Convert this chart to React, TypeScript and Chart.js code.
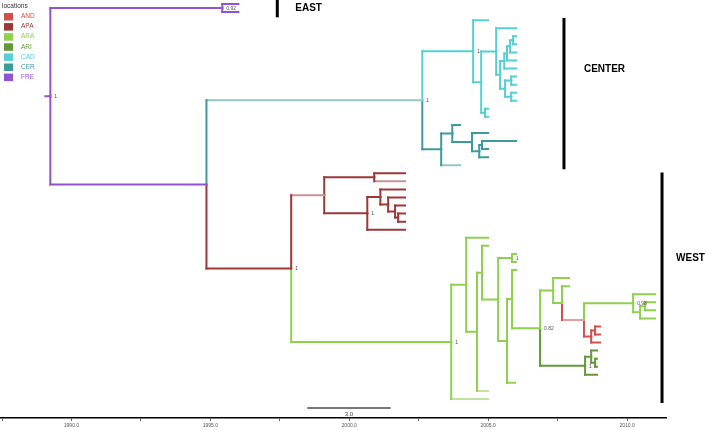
import React, { useEffect, useRef } from "react";
import { Chart, registerables } from "chart.js";

Chart.register(...registerables);

// ---- legend / locations ----
const locations = ["AND", "APA", "ARA", "ARI", "CAD", "CER", "FRE"];
const locationColors = ["#d24f4f", "#9c3838", "#8fd04e", "#64983a", "#55d0d0", "#3d9b9b", "#9352cf"];

// ---- tree: parent index, node height (year), location of the node ----
const nodeParent = [
  -1, 0, 1, 1, 0, 4, 5, 6, 6, 8,
  9, 9, 11, 12, 13, 14, 15, 15, 14, 13,
  12, 11, 21, 22, 22, 21, 25, 25, 8, 28,
  28, 5, 31, 32, 32, 34, 34, 36, 37, 37,
  36, 31, 4, 42, 43, 44, 44, 43, 47, 48,
  48, 50, 50, 52, 52, 54, 54, 47, 42, 58,
  59, 59, 61, 62, 62, 64, 65, 65, 64, 68,
  69, 69, 71, 72, 72, 74, 74, 76, 77, 77,
  79, 80, 80, 79, 76, 84, 85, 85, 84, 71,
  89, 90, 90, 92, 92, 89, 68, 61, 58,
];
const nodeYear = [
  1989.24, 1995.43, 1996.01, 1996.01, 1994.86, 2002.63, 2004.46, 2005.0, 2004.75, 2005.29,
  2006.01, 2005.43, 2005.58, 2005.68, 2005.79, 2005.9, 2006.01, 2006.01, 2006.01, 2006.01,
  2006.01, 2005.61, 2005.83, 2006.01, 2006.01, 2005.83, 2006.01, 2006.01, 2004.89, 2005.0,
  2005.0, 2003.31, 2003.71, 2003.99, 2004.42, 2005.0, 2004.68, 2004.78, 2006.01, 2005.0,
  2005.0, 2003.99, 1997.91, 1999.1, 2000.9, 2002.01, 2002.01, 2000.65, 2001.12, 2002.01,
  2001.4, 2002.01, 2001.65, 2002.01, 2001.76, 2002.01, 2002.01, 2002.01, 2003.67, 2004.21,
  2005.0, 2004.6, 2004.78, 2005.0, 2005.36, 2005.86, 2006.01, 2006.01, 2005.68, 2005.86,
  2006.01, 2006.87, 2007.34, 2007.91, 2007.66, 2007.91, 2008.45, 2010.22, 2011.01, 2010.47,
  2010.65, 2011.01, 2011.01, 2011.01, 2008.71, 2008.85, 2009.03, 2009.03, 2009.03, 2008.49,
  2008.71, 2008.92, 2008.85, 2008.92, 2008.92, 2008.92, 2005.97, 2005.0, 2005.0,
];
const nodeLocation = [
  "FRE", "FRE", "FRE", "FRE", "FRE", "CER", "CAD", "CAD", "CAD", "CAD",
  "CAD", "CAD", "CAD", "CAD", "CAD", "CAD", "CAD", "CAD", "CAD", "CAD",
  "CAD", "CAD", "CAD", "CAD", "CAD", "CAD", "CAD", "CAD", "CAD", "CAD",
  "CAD", "CER", "CER", "CER", "CER", "CER", "CER", "CER", "CER", "CER",
  "CER", "CER", "APA", "APA", "APA", "APA", "APA", "APA", "APA", "APA",
  "APA", "APA", "APA", "APA", "APA", "APA", "APA", "APA", "ARA", "ARA",
  "ARA", "ARA", "ARA", "ARA", "ARA", "ARA", "ARA", "ARA", "ARA", "ARA",
  "ARA", "ARA", "ARA", "ARA", "ARA", "ARA", "AND", "ARA", "ARA", "ARA",
  "ARA", "ARA", "ARA", "ARA", "AND", "AND", "AND", "AND", "AND", "ARI",
  "ARI", "ARI", "ARI", "ARI", "ARI", "ARI", "ARA", "ARA", "ARA",
];
const fadedNodes = [5, 41, 43, 46, 76, 97, 98];
const rootStubYear = 1989.06;

// ---- posterior support labels ----
const supportNodes = [0, 1, 5, 6, 42, 47, 58, 65, 71, 77, 89];
const supportValues = ["1", "0.92", "1", "1", "1", "1", "1", "1", "0.82", "0,98", "1"];

// ---- clade annotation ----
const regionNames = ["EAST", "CENTER", "WEST"];
const regionFirstTip = [0, 2, 21];
const regionLastTip = [1, 20, 49];

// ---- axis ----
const tickYears = [1987.5, 1990, 1992.5, 1995, 1997.5, 2000, 2002.5, 2005, 2007.5, 2010];
const scaleBarYears = 3.0;

function fade(hex: string, k: number) {
  const r = parseInt(hex.slice(1, 3), 16), g = parseInt(hex.slice(3, 5), 16), b = parseInt(hex.slice(5, 7), 16);
  const m = (c: number) => Math.round(c + (255 - c) * k);
  return `rgb(${m(r)},${m(g)},${m(b)})`;
}

function layoutTree() {
  const n = nodeParent.length;
  const children: number[][] = Array.from({ length: n }, () => []);
  nodeParent.forEach((p, i) => { if (p >= 0) children[p].push(i); });
  const yPos = new Array(n).fill(0);
  let tip = 0;
  const visit = (i: number) => {
    const c = children[i];
    if (c.length === 0) { yPos[i] = tip++; return; }
    c.forEach(visit);
    yPos[i] = (yPos[c[0]] + yPos[c[c.length - 1]]) / 2;
  };
  visit(0);
  return { children, yPos };
}

export default function App() {
  const ref = useRef<HTMLCanvasElement>(null);
  useEffect(() => {
    const { yPos } = layoutTree();
    const colorOf = (i: number) => locationColors[locations.indexOf(nodeLocation[i])];
    const datasets: any[] = [];
    const seg = (pts: any[], color: string) =>
      datasets.push({
        data: pts, showLine: true, borderColor: color, backgroundColor: color,
        borderWidth: 2, pointRadius: 0, fill: false, borderCapStyle: "square",
      });
    seg([{ x: rootStubYear, y: yPos[0] }, { x: nodeYear[0], y: yPos[0] }], colorOf(0));
    nodeParent.forEach((p, i) => {
      if (p < 0) return;
      const base = colorOf(i);
      const h = fadedNodes.includes(i) ? fade(base, 0.45) : base;
      seg([{ x: nodeYear[p], y: yPos[p] }, { x: nodeYear[p], y: yPos[i] }], base);
      seg([{ x: nodeYear[p], y: yPos[i] }, { x: nodeYear[i], y: yPos[i] }], h);
    });

    const overlay = {
      id: "overlay",
      afterDraw(chart: any) {
        const ctx = chart.ctx;
        const xs = chart.scales.x, ys = chart.scales.y;
        ctx.save();
        // legend
        ctx.textBaseline = "middle";
        ctx.fillStyle = "#333";
        ctx.font = "6.5px 'Liberation Sans', Arial, sans-serif";
        ctx.textAlign = "left";
        ctx.fillText("locations", 2, 6);
        locations.forEach((loc, k) => {
          const cy = 16.5 + k * 10.1;
          ctx.fillStyle = locationColors[k];
          ctx.fillRect(4, cy - 3.5, 9, 7.5);
          ctx.fillText(loc, 21, cy);
        });
        // support labels
        ctx.fillStyle = "#555";
        ctx.font = "5px 'Liberation Sans', Arial, sans-serif";
        supportNodes.forEach((nd, k) => {
          ctx.fillText(supportValues[k], xs.getPixelForValue(nodeYear[nd]) + 4, ys.getPixelForValue(yPos[nd]) + 0.5);
        });
        // clade bars
        const barYears = [1997.41, 2007.73, 2011.26];
        const barPad = [[-0.5, 0.65], [-0.28, 0.5], [-0.1, 0.5]];
        const labelDx = [18, 20, 14];
        const labelRow = [0.5, 8.07, 31.6];
        regionNames.forEach((name, k) => {
          const bx = xs.getPixelForValue(barYears[k]);
          const y0 = ys.getPixelForValue(regionFirstTip[k] + barPad[k][0]);
          const y1 = ys.getPixelForValue(regionLastTip[k] + barPad[k][1]);
          ctx.fillStyle = "#000";
          ctx.fillRect(bx - 1.5, y0, 3, y1 - y0);
          ctx.font = "bold 10px 'Liberation Sans', Arial, sans-serif";
          ctx.fillText(name, bx + labelDx[k], ys.getPixelForValue(labelRow[k]));
        });
        // scale bar
        const sx0 = xs.getPixelForValue(1998.49);
        const sx1 = xs.getPixelForValue(1998.49 + scaleBarYears);
        const sy = chart.chartArea.bottom - 10;
        ctx.strokeStyle = "#777";
        ctx.lineWidth = 2;
        ctx.beginPath();
        ctx.moveTo(sx0, sy);
        ctx.lineTo(sx1, sy);
        ctx.stroke();
        ctx.fillStyle = "#444";
        ctx.font = "6px 'Liberation Sans', Arial, sans-serif";
        ctx.textAlign = "center";
        ctx.fillText(scaleBarYears.toFixed(1), (sx0 + sx1) / 2, sy + 6.5);
        ctx.restore();
      },
    };

    const chart = new Chart(ref.current!, {
      type: "scatter",
      data: { datasets },
      options: {
        animation: false,
        responsive: false,
        events: [],
        layout: { padding: { left: 0, right: 40, top: 0, bottom: 0 } },
        plugins: { legend: { display: false }, tooltip: { enabled: false } },
        scales: {
          x: {
            type: "linear",
            min: 1987.446,
            max: 2011.403,
            afterBuildTicks: (s: any) => { s.ticks = tickYears.map((v) => ({ value: v })); },
            afterFit: (s: any) => { s.height = 12; },
            grid: { display: true, drawOnChartArea: false, drawTicks: true, tickLength: 3, tickColor: "#666" },
            border: { display: true, color: "#000", width: 1.5 },
            ticks: {
              autoSkip: false,
              maxRotation: 0,
              padding: 2,
              color: "#555",
              font: { size: 5, family: "'Liberation Sans', Arial, sans-serif" },
              callback: (v: any) => (Number(v) % 5 === 0 ? Number(v).toFixed(1) : ""),
            },
          },
          y: { type: "linear", display: false, reverse: true, min: -0.5, max: 51.36 },
        },
      },
      plugins: [overlay],
    } as any);
    return () => chart.destroy();
  }, []);
  return (
    <canvas
      ref={ref}
      width={706}
      height={430}
      style={{ position: "absolute", left: 0, top: 0, width: 706, height: 430, display: "block" }}
    />
  );
}
